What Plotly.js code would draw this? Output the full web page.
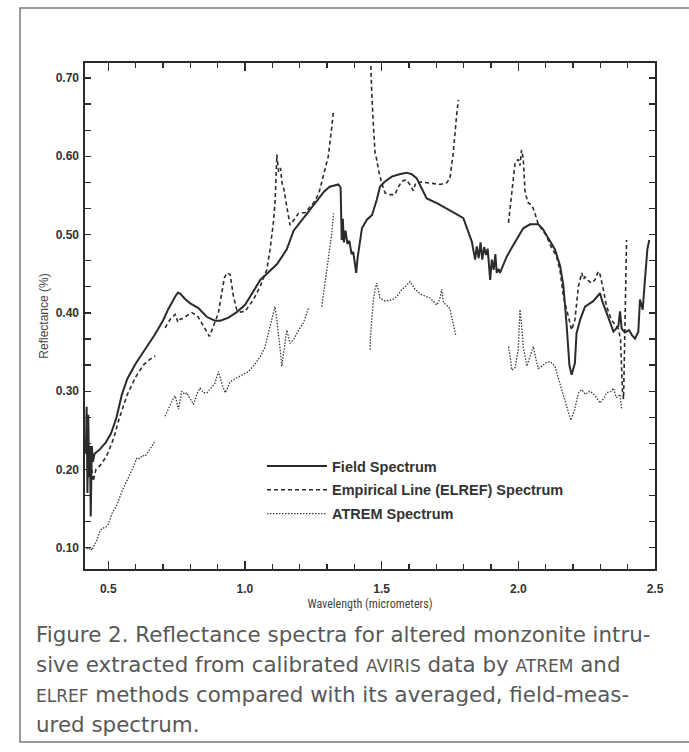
<!DOCTYPE html>
<html>
<head>
<meta charset="utf-8">
<script src="https://cdn.plot.ly/plotly-3.0.1.min.js"></script>
<style>
  html, body { margin: 0; padding: 0; background: #ffffff; }
  #chart { width: 689px; height: 752px; }
</style>
</head>
<body>
<div id="chart"></div>
<script>
// ---------------- DATA ----------------
var fieldWavelength = [
  0.418, 0.421, 0.424, 0.427, 0.430, 0.433, 0.436, 0.440, 0.444, 0.450,
  0.47, 0.49, 0.51, 0.53, 0.55, 0.57, 0.60, 0.64, 0.67, 0.70, 0.72, 0.745, 0.755, 0.765,
  0.78, 0.80, 0.83, 0.86, 0.89, 0.91, 0.94, 0.97, 1.00, 1.03, 1.056, 1.08, 1.117, 1.153,
  1.178, 1.214, 1.263, 1.29, 1.31, 1.342, 1.35, 1.354, 1.358, 1.362, 1.368, 1.375, 1.382,
  1.39, 1.396, 1.402, 1.407, 1.412, 1.42, 1.428, 1.446, 1.465, 1.482, 1.494, 1.51, 1.537,
  1.565, 1.592, 1.61, 1.628, 1.645, 1.665, 1.702, 1.74, 1.769, 1.799, 1.815, 1.83, 1.842,
  1.848, 1.855, 1.862, 1.868, 1.875, 1.882, 1.888, 1.897, 1.903, 1.91, 1.916, 1.921, 1.928,
  1.933, 1.945, 1.958, 1.976, 1.994, 2.018, 2.043, 2.073, 2.09, 2.104, 2.116, 2.134, 2.153,
  2.165, 2.177, 2.187, 2.195, 2.207, 2.213, 2.226, 2.244, 2.274, 2.299, 2.308, 2.323, 2.348,
  2.366, 2.372, 2.378, 2.39, 2.405, 2.415, 2.427, 2.439, 2.445, 2.455, 2.464, 2.472, 2.479
];
var fieldReflectance = [
  0.22, 0.28, 0.17, 0.27, 0.19, 0.23, 0.14, 0.23, 0.21, 0.22,
  0.226, 0.234, 0.246, 0.266, 0.296, 0.316, 0.335, 0.356, 0.372, 0.39, 0.405, 0.421, 0.426, 0.424,
  0.418, 0.412, 0.406, 0.395, 0.39, 0.39, 0.394, 0.401, 0.41, 0.427, 0.442, 0.45, 0.462, 0.481,
  0.505, 0.521, 0.542, 0.555, 0.561, 0.564, 0.56, 0.493, 0.52, 0.49, 0.505, 0.488, 0.492,
  0.475, 0.478, 0.46, 0.451, 0.47, 0.49, 0.508, 0.519, 0.525, 0.544, 0.561, 0.567, 0.574,
  0.577, 0.579, 0.577, 0.572, 0.56, 0.546, 0.54, 0.532, 0.527, 0.521, 0.505, 0.491, 0.468,
  0.485, 0.47, 0.49, 0.468, 0.484, 0.474, 0.482, 0.442, 0.468, 0.455, 0.475, 0.451, 0.456,
  0.451, 0.462, 0.472, 0.483, 0.494, 0.508, 0.513, 0.513, 0.507, 0.499, 0.492, 0.481, 0.46,
  0.434, 0.383, 0.333, 0.321, 0.336, 0.374, 0.391, 0.408, 0.415, 0.425, 0.414, 0.40, 0.376,
  0.383, 0.402, 0.38, 0.375, 0.378, 0.372, 0.367, 0.376, 0.417, 0.404, 0.446, 0.481, 0.493
];

var elrefWavelength = [
  0.425, 0.432, 0.438, 0.445, 0.455, 0.47, 0.49, 0.50, 0.52, 0.54, 0.57, 0.60, 0.63, 0.65, 0.672,
  null,
  0.708, 0.727, 0.745, 0.755, 0.763, 0.775, 0.79, 0.806, 0.825, 0.848, 0.862, 0.87, 0.877, 0.885,
  0.903, 0.915, 0.925, 0.934, 0.946, 0.958, 0.97, 0.985, 1.001, 1.031, 1.056, 1.08, 1.092, 1.104,
  1.11, 1.117, 1.123, 1.13, 1.136, 1.141, 1.147, 1.153, 1.165, 1.175, 1.18, 1.196, 1.22, 1.25,
  1.27, 1.287, 1.305, 1.318, 1.324,
  null,
  1.456, 1.46, 1.464, 1.47, 1.476, 1.482, 1.488, 1.50, 1.513, 1.53, 1.549, 1.56, 1.574, 1.59,
  1.605, 1.616, 1.625, 1.645, 1.665, 1.69, 1.714, 1.738, 1.75, 1.762, 1.769, 1.775, 1.781,
  null,
  1.964, 1.976, 1.988, 2.0, 2.006, 2.012, 2.018, 2.025, 2.037, 2.049, 2.061, 2.073, 2.09, 2.104,
  2.116, 2.128, 2.14, 2.153, 2.165, 2.177, 2.187, 2.195, 2.207, 2.213, 2.22, 2.232, 2.238, 2.244,
  2.256, 2.268, 2.28, 2.293, 2.299, 2.311, 2.323, 2.341, 2.357, 2.366, 2.374, 2.378, 2.381, 2.385,
  2.388, 2.39, 2.394, 2.396
];
var elrefReflectance = [
  0.215, 0.19, 0.205, 0.185, 0.20, 0.205, 0.215, 0.222, 0.24, 0.265, 0.296, 0.318, 0.334, 0.34, 0.345,
  null,
  0.381, 0.392, 0.398, 0.388, 0.392, 0.393, 0.397, 0.40, 0.397, 0.383, 0.375, 0.37, 0.376, 0.383,
  0.40, 0.425, 0.445, 0.451, 0.449, 0.421, 0.404, 0.401, 0.402, 0.417, 0.434, 0.455, 0.481, 0.515,
  0.54, 0.602, 0.58, 0.585, 0.565, 0.561, 0.545, 0.536, 0.512, 0.517, 0.52, 0.527, 0.528, 0.54,
  0.552, 0.574, 0.60, 0.638, 0.659,
  null,
  0.76, 0.715, 0.681, 0.638, 0.604, 0.596, 0.583, 0.566, 0.553, 0.551, 0.551, 0.56, 0.568, 0.57,
  0.563, 0.556, 0.566, 0.567, 0.566, 0.565, 0.564, 0.566, 0.572, 0.604, 0.638, 0.655, 0.672,
  null,
  0.515, 0.553, 0.591, 0.596, 0.588, 0.608, 0.597, 0.553, 0.54, 0.538, 0.527, 0.513, 0.505, 0.498,
  0.487, 0.48, 0.472, 0.453, 0.421, 0.404, 0.39, 0.378, 0.391, 0.412, 0.434, 0.451, 0.443, 0.446,
  0.441, 0.438, 0.442, 0.453, 0.449, 0.43, 0.408, 0.391, 0.383, 0.38, 0.366, 0.332, 0.30, 0.29,
  0.36, 0.417, 0.468, 0.493
];

var atremWavelength = [
  0.42, 0.428, 0.434, 0.44, 0.45, 0.459, 0.468, 0.477, 0.49, 0.50, 0.514, 0.532, 0.55, 0.568,
  0.585, 0.593, 0.605, 0.615, 0.625, 0.635, 0.645, 0.654, 0.669,
  null,
  0.708, 0.718, 0.727, 0.737, 0.745, 0.757, 0.769, 0.78, 0.787, 0.80, 0.812, 0.825, 0.836, 0.848,
  0.861, 0.878, 0.89, 0.903, 0.915, 0.928, 0.946, 0.965, 0.983, 1.0, 1.013, 1.035, 1.056, 1.072,
  1.086, 1.10, 1.11, 1.117, 1.123, 1.13, 1.135, 1.141, 1.147, 1.153, 1.159, 1.165, 1.178, 1.19,
  1.20, 1.214, 1.232,
  null,
  1.281, 1.293, 1.305, 1.318, 1.324,
  null,
  1.458, 1.46, 1.466, 1.47, 1.476, 1.482, 1.494, 1.513, 1.53, 1.545, 1.556, 1.574, 1.585, 1.604,
  1.622, 1.647, 1.677, 1.69, 1.702, 1.712, 1.72, 1.726, 1.738, 1.75, 1.762, 1.772,
  null,
  1.964, 1.97, 1.976, 1.988, 2.0, 2.006, 2.012, 2.018, 2.031, 2.043, 2.055, 2.065, 2.073, 2.086,
  2.10, 2.116, 2.134, 2.145, 2.159, 2.171, 2.177, 2.192, 2.205, 2.22, 2.232, 2.245, 2.262, 2.28,
  2.299, 2.315, 2.323, 2.341, 2.348, 2.358, 2.366, 2.372, 2.378
];
var atremReflectance = [
  0.10, 0.098, 0.10, 0.097, 0.104, 0.11, 0.12, 0.125, 0.126, 0.13, 0.144, 0.155, 0.172, 0.185,
  0.198, 0.204, 0.215, 0.214, 0.218, 0.217, 0.222, 0.227, 0.235,
  null,
  0.268, 0.277, 0.283, 0.29, 0.294, 0.277, 0.30, 0.296, 0.298, 0.29, 0.283, 0.297, 0.304, 0.298,
  0.298, 0.305, 0.31, 0.325, 0.31, 0.298, 0.312, 0.316, 0.319, 0.322, 0.325, 0.334, 0.344, 0.355,
  0.374, 0.395, 0.408, 0.39, 0.374, 0.35, 0.332, 0.35, 0.361, 0.378, 0.37, 0.361, 0.366, 0.374,
  0.38, 0.387, 0.406,
  null,
  0.408, 0.438, 0.472, 0.502, 0.527,
  null,
  0.353, 0.374, 0.40, 0.417, 0.43, 0.438, 0.419, 0.415, 0.416, 0.418, 0.421, 0.43, 0.433, 0.44,
  0.43, 0.423, 0.419, 0.414, 0.41, 0.417, 0.43, 0.413, 0.41, 0.405, 0.387, 0.37,
  null,
  0.357, 0.345, 0.327, 0.33, 0.353, 0.404, 0.385, 0.357, 0.332, 0.345, 0.357, 0.34, 0.329, 0.332,
  0.336, 0.338, 0.332, 0.318, 0.302, 0.289, 0.28, 0.263, 0.275, 0.298, 0.302, 0.296, 0.30, 0.295,
  0.285, 0.292, 0.298, 0.30, 0.304, 0.292, 0.293, 0.296, 0.278
];

var seriesNames = ['Field Spectrum', 'Empirical Line (ELREF) Spectrum', 'ATREM Spectrum'];
var xTickValues = [0.5, 1.0, 1.5, 2.0, 2.5];
var yTickValues = [0.10, 0.20, 0.30, 0.40, 0.50, 0.60, 0.70];
var captionLines = [
  'Figure 2. Reflectance spectra for altered monzonite intru-',
  'sive extracted from calibrated <span style="font-size:17px">AVIRIS</span> data by <span style="font-size:17px">ATREM</span> and',
  '<span style="font-size:17px">ELREF</span> methods compared with its averaged, field-meas-',
  'ured spectrum.'
];

// ---------------- CHART ----------------
var ink = '#2b2b2b';
var narrow = '"Liberation Sans Narrow", "Arial Narrow", "Roboto Condensed", "DejaVu Sans Condensed", "Liberation Sans", Arial, sans-serif';
var regular = '"Liberation Sans", Arial, Helvetica, sans-serif';

var traces = [
  {
    x: fieldWavelength, y: fieldReflectance, name: seriesNames[0], legendgroup: 'a',
    type: 'scatter', mode: 'lines', connectgaps: false,
    line: { color: ink, width: 2.0, dash: 'solid' }
  },
  {
    x: elrefWavelength, y: elrefReflectance, name: seriesNames[1], legendgroup: 'b',
    type: 'scatter', mode: 'lines', connectgaps: false,
    line: { color: ink, width: 1.6, dash: '4px,3px' }
  },
  {
    x: atremWavelength, y: atremReflectance, name: seriesNames[2], legendgroup: 'c',
    type: 'scatter', mode: 'lines', connectgaps: false,
    line: { color: '#3a3a3a', width: 1.3, dash: '1.5px,1.5px' }
  }
];

// plot area in pixels: x 85..655, y 63..569
var L = 85, R = 655, T = 63, B = 569, W = R - L, H = B - T;
function px(xp) { return (xp - L) / W; }
function py(yp) { return (B - yp) / H; }

var annotations = [];
var captionY = [634, 664, 694, 724];
for (var i = 0; i < captionLines.length; i++) {
  annotations.push({
    xref: 'paper', yref: 'paper', x: px(34), y: py(captionY[i]),
    xanchor: 'left', yanchor: 'middle', showarrow: false, align: 'left',
    text: captionLines[i],
    font: { family: '"DejaVu Sans", "Noto Sans", sans-serif', size: 21.4, color: '#585858' }
  });
}

var layout = {
  width: 689, height: 752,
  margin: { l: L, r: 689 - R, t: T, b: 752 - B, pad: 0 },
  paper_bgcolor: '#ffffff', plot_bgcolor: '#ffffff',
  showlegend: true,
  legend: {
    x: px(262), y: py(450), xanchor: 'left', yanchor: 'top',
    bgcolor: 'rgba(0,0,0,0)', borderwidth: 0,
    traceorder: 'grouped', tracegroupgap: 2, itemwidth: 60,
    font: { family: regular, size: 14.5, color: '#333333', weight: 700 }
  },
  xaxis: {
    range: [0.415, 2.5], tickmode: 'array', tickvals: xTickValues, ticktext: xTickValues.map(function(v){return v.toFixed(1);}),
    ticks: 'inside', ticklen: 8, tickwidth: 1.3, tickcolor: ink,
    minor: { dtick: 0.1, tick0: 0.5, ticks: 'inside', ticklen: 5, tickwidth: 1.2, tickcolor: ink, showgrid: false },
    showline: true, linecolor: ink, linewidth: 1.6, mirror: 'ticks',
    showgrid: false, zeroline: false, ticklabelstandoff: 8,
    tickfont: { family: regular, size: 12, color: '#333333', weight: 700 },
    title: { text: 'Wavelength (micrometers)', standoff: 4,
             font: { family: narrow, size: 12, color: '#444444' } }
  },
  yaxis: {
    range: [0.073, 0.719], tickmode: 'array', tickvals: yTickValues, ticktext: yTickValues.map(function(v){return v.toFixed(2);}),
    ticks: 'inside', ticklen: 6, tickwidth: 1.3, tickcolor: ink,
    minor: { dtick: 0.1 / 3, tick0: 0.1, ticks: 'inside', ticklen: 6, tickwidth: 1.2, tickcolor: ink, showgrid: false },
    showline: true, linecolor: ink, linewidth: 1.6, mirror: 'ticks',
    showgrid: false, zeroline: false, ticklabelstandoff: 2,
    tickfont: { family: regular, size: 12, color: '#333333', weight: 700 },
    title: { text: 'Reflectance (%)', standoff: 4,
             font: { family: regular, size: 12, color: '#444444' } }
  },
  annotations: annotations,
  shapes: [
    { type: 'rect', xref: 'paper', yref: 'paper', x0: px(20), x1: px(700), y0: py(742), y1: py(8),
      line: { color: '#7a7a7a', width: 1.5 }, fillcolor: 'rgba(0,0,0,0)', layer: 'below' }
  ]
};

Plotly.newPlot('chart', traces, layout, { displayModeBar: false, staticPlot: true });
</script>
</body>
</html>
